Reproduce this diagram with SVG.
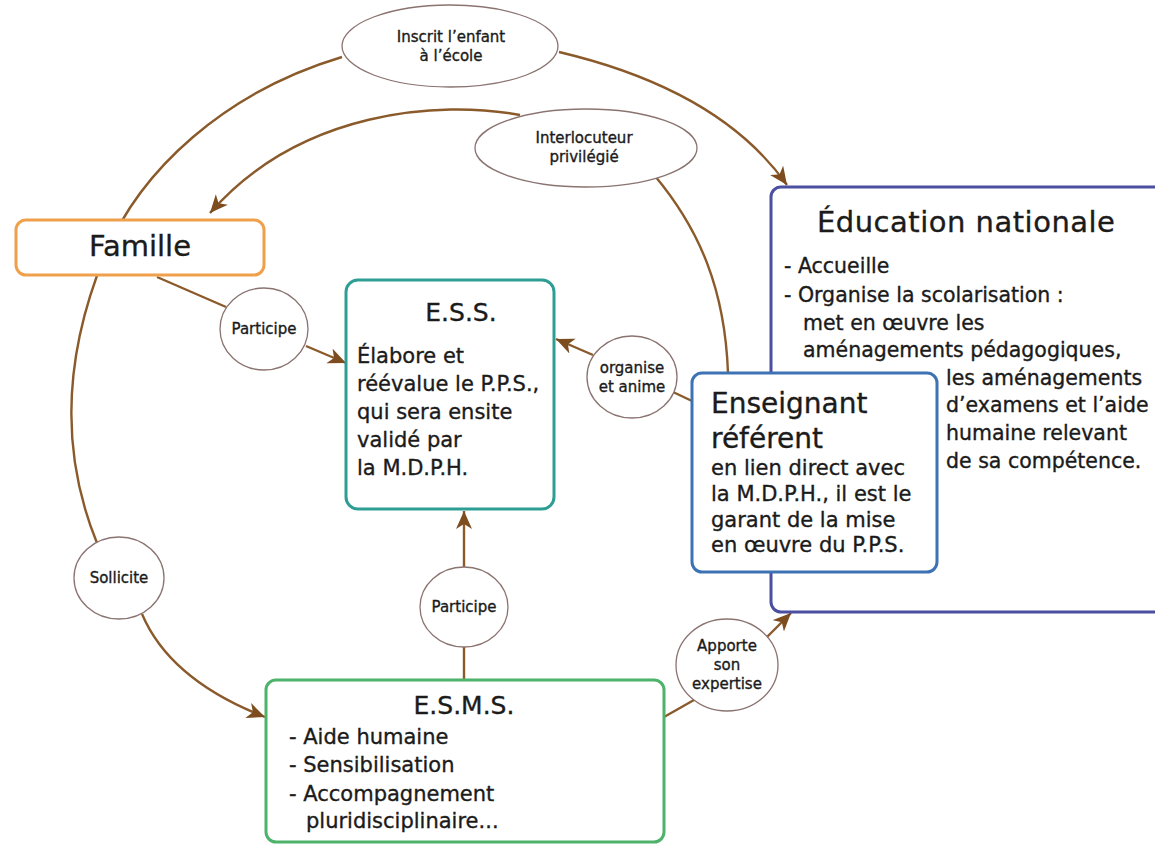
<svg xmlns="http://www.w3.org/2000/svg" width="1155" height="845" viewBox="0 0 1155 845">
<defs>
<style>
text{font-family:"DejaVu Sans","Liberation Sans",sans-serif;fill:#1b1b1b;stroke:#1b1b1b;stroke-width:0.35}
.conn{fill:none;stroke:#8a5a2b;stroke-width:2.4}
.lbl{fill:#fff;stroke:#8a7370;stroke-width:1.3}
.small{font-size:15px;text-anchor:middle}
.body{font-size:21px}
.edu{font-size:20.5px}
.box{fill:#fff;stroke-width:3}
</style>
<marker id="arr" markerUnits="userSpaceOnUse" markerWidth="22" markerHeight="20" refX="18" refY="8" orient="auto">
<path d="M0,0 L18,8 L0,16 L5,8 Z" fill="#7d4d20"/>
</marker>
</defs>
<rect width="1155" height="845" fill="#fff"/>
<g id="connectors">
<path class="conn" d="M342,57 C225,92 140,170 105,255 S55,440 97,543"/>
<path class="conn" d="M142,614 Q170,680 265,717" marker-end="url(#arr)"/>
<path class="conn" d="M559,52 Q720,90 787,185" marker-end="url(#arr)"/>
<path class="conn" d="M520,115 C440,100 300,110 210,213" marker-end="url(#arr)"/>
<path class="conn" d="M655,176 C700,230 725,290 728,373"/>
<path class="conn" d="M157,277 L226,307"/>
<path class="conn" d="M306,346 L346,363" marker-end="url(#arr)"/>
<path class="conn" d="M464,680 L464,647"/>
<path class="conn" d="M464,567 L464,511" marker-end="url(#arr)"/>
<path class="conn" d="M692,401 L673,392"/>
<path class="conn" d="M593,355 L556,339" marker-end="url(#arr)"/>
<path class="conn" d="M664,717 L694,700"/>
<path class="conn" d="M767,637 L791,613" marker-end="url(#arr)"/>
</g>
<g id="education">
<rect class="box" x="771" y="187" width="440" height="425" rx="10" stroke="#4a4fa0"/>
<text x="817" y="232" font-size="29" letter-spacing="0.5">Éducation nationale</text>
<text class="edu" x="784" y="273">- Accueille</text>
<text class="edu" x="784" y="302">- Organise la scolarisation :</text>
<text class="edu" x="803" y="330">met en œuvre les</text>
<text class="edu" x="803" y="357">aménagements pédagogiques,</text>
<text class="edu" x="946" y="385">les aménagements</text>
<text class="edu" x="946" y="412">d’examens et l’aide</text>
<text class="edu" x="946" y="440">humaine relevant</text>
<text class="edu" x="946" y="468">de sa compétence.</text>
</g>
<g id="enseignant">
<rect class="box" x="692" y="373" width="245" height="199" rx="10" stroke="#3d72b4"/>
<text x="711" y="413" font-size="28">Enseignant</text>
<text x="711" y="448" font-size="28">référent</text>
<text class="body" x="711" y="475">en lien direct avec</text>
<text class="body" x="711" y="501">la M.D.P.H., il est le</text>
<text class="body" x="711" y="527">garant de la mise</text>
<text class="body" x="711" y="552">en œuvre du P.P.S.</text>
</g>
<g id="famille">
<rect class="box" x="16" y="220" width="248" height="55" rx="10" stroke="#f0a04b"/>
<text x="140" y="256" font-size="29" text-anchor="middle">Famille</text>
</g>
<g id="ess">
<rect class="box" x="346" y="280" width="208" height="229" rx="12" stroke="#2e9e94"/>
<text x="461" y="321" font-size="25" text-anchor="middle">E.S.S.</text>
<text class="body" x="357" y="363">Élabore et</text>
<text class="body" x="357" y="391">réévalue le P.P.S.,</text>
<text class="body" x="357" y="419">qui sera ensite</text>
<text class="body" x="357" y="447">validé par</text>
<text class="body" x="357" y="475">la M.D.P.H.</text>
</g>
<g id="esms">
<rect class="box" x="266" y="680" width="398" height="162" rx="10" stroke="#4db36b"/>
<text x="464" y="714" font-size="25" text-anchor="middle">E.S.M.S.</text>
<text class="body" x="289" y="744">- Aide humaine</text>
<text class="body" x="289" y="772">- Sensibilisation</text>
<text class="body" x="289" y="801">- Accompagnement</text>
<text class="body" x="306" y="828">pluridisciplinaire...</text>
</g>
<g id="lbl-inscrit">
<ellipse class="lbl" cx="450" cy="46" rx="108" ry="41"/>
<text class="small" x="451" y="42">Inscrit l’enfant</text>
<text class="small" x="451" y="61">à l’école</text>
</g>
<g id="lbl-interlocuteur">
<ellipse class="lbl" cx="586" cy="148" rx="111" ry="39"/>
<text class="small" x="584" y="143">Interlocuteur</text>
<text class="small" x="584" y="162">privilégié</text>
</g>
<g id="lbl-participe1">
<ellipse class="lbl" cx="264" cy="329" rx="44" ry="41"/>
<text class="small" x="264" y="334">Participe</text>
</g>
<g id="lbl-sollicite">
<ellipse class="lbl" cx="119" cy="578" rx="45" ry="41"/>
<text class="small" x="119" y="583">Sollicite</text>
</g>
<g id="lbl-participe2">
<ellipse class="lbl" cx="464" cy="607" rx="44" ry="40"/>
<text class="small" x="464" y="612">Participe</text>
</g>
<g id="lbl-organise">
<ellipse class="lbl" cx="632" cy="377" rx="45" ry="41"/>
<text class="small" x="632" y="373">organise</text>
<text class="small" x="632" y="392">et anime</text>
</g>
<g id="lbl-apporte">
<ellipse class="lbl" cx="727" cy="665" rx="51" ry="46"/>
<text class="small" x="727" y="651">Apporte</text>
<text class="small" x="727" y="670">son</text>
<text class="small" x="727" y="689">expertise</text>
</g>
</svg>
